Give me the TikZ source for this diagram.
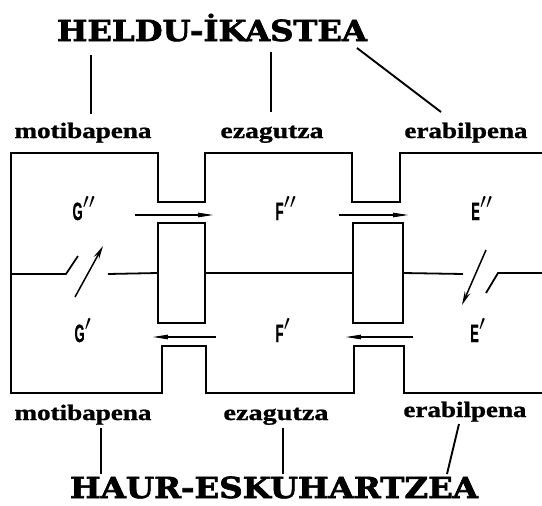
\documentclass[tikz,border=0pt]{standalone}
\usepackage{fontspec}
\setmainfont{Liberation Serif}
\newfontfamily\headfont[FakeBold=2.2]{DejaVu Serif Bold}
\newfontfamily\lblfont[FakeBold=1.0]{Liberation Serif Bold}
\newfontfamily\labfont[FakeBold=1.0]{Liberation Sans Bold}
\usetikzlibrary{arrows.meta}
\newcommand{\fitw}[2]{\resizebox{#1}{\height}{#2}}
\newcommand{\gl}[2]{\scalebox{0.52}[1]{\labfont #1}\kern0.3pt\scalebox{1.25}{$#2$}}
\tikzset{
  box/.style={line width=1.8pt, line join=miter, line cap=rect},
  conn/.style={line width=1.9pt},
  head/.style={anchor=base, inner sep=0pt, font=\headfont\fontsize{29}{29}\selectfont},
  lbl/.style={anchor=base, inner sep=0pt, font=\lblfont\fontsize{22}{22}\selectfont},
  glab/.style={anchor=base, inner sep=0pt, font=\fontsize{25}{25}\selectfont},
  flow/.style={line width=1.1pt, -{Stealth[length=22pt,width=7pt,inset=11pt]}},
  sw/.style={line width=1.5pt, -{Stealth[length=14pt,width=6pt,inset=5pt]}},
  rectbox/.style={draw, line width=1.8pt, inner sep=0pt, outer sep=0pt}
}
\begin{document}
\begin{tikzpicture}[x=1pt,y=-1pt]
\useasboundingbox (0,0) rectangle (542,506);
\fill[white] (0,0) rectangle (542,506);
% headlines
\node[head] (heldu) at (212,41) {\fitw{310pt}{HELDU-İKASTEA}};
\node[head] (haur) at (274,498) {\fitw{408pt}{HAUR-ESKUHARTZEA}};
% top labels
\node[lbl] (tmot) at (83,138) {\fitw{137pt}{motibapena}};
\node[lbl] (teza) at (272,138) {\fitw{103pt}{ezagutza}};
\node[lbl] (tera) at (466,138) {\fitw{123pt}{erabilpena}};
% bottom labels
\node[lbl] (bmot) at (83,420) {\fitw{137pt}{motibapena}};
\node[lbl] (beza) at (276,420) {\fitw{105pt}{ezagutza}};
\node[lbl] (bera) at (465,417) {\fitw{123pt}{erabilpena}};
% connector endpoints
\coordinate (h1) at (91,55);  \coordinate (m1) at (91,114);
\coordinate (h2) at (271,52); \coordinate (m2) at (271,112);
\coordinate (h3) at (357,48); \coordinate (m3) at (441,112);
\coordinate (b1) at (101,428); \coordinate (u1) at (101,474);
\coordinate (b2) at (283,428); \coordinate (u2) at (283,474);
\coordinate (b3) at (459,424); \coordinate (u3) at (447,474);
\draw[conn] (h1) -- (m1);
\draw[conn] (h2) -- (m2);
\draw[conn] (h3) -- (m3);
\draw[conn] (b1) -- (u1);
\draw[conn] (b2) -- (u2);
\draw[conn] (b3) -- (u3);
% outer frame
\draw[box] (542,153) -- (400,153) -- (400,202) -- (352,202) -- (352,153) -- (205,153)
  -- (205,202) -- (158,202) -- (158,153) -- (11,153) -- (11,393) -- (162,393)
  -- (162,346) -- (206,346) -- (206,393) -- (354,393) -- (354,346) -- (404,346)
  -- (404,393) -- (542,393);
% rectangles
\node[rectbox, minimum width=47pt, minimum height=100pt] (r1) at (181.5,273) {};
\node[rectbox, minimum width=50pt, minimum height=100pt] (r2) at (378,273) {};
% middle line and switches
\coordinate (s0) at (11,274); \coordinate (s1) at (66,274); \coordinate (s2) at (78,256);
\coordinate (s3) at (108,274);
\coordinate (e0) at (463,274);
\coordinate (e1) at (486,293); \coordinate (e2) at (498,273); \coordinate (e3) at (542,273);
\draw[box, line cap=butt] (s0) -- (s1) -- (s2);
\draw[box, line cap=butt] (s3) -- (r1.west);
\draw[box, line cap=butt] (r1.east) -- (r2.west);
\draw[box, line cap=butt] (r2.east) -- (e0);
\draw[box, line cap=butt] (e1) -- (e2) -- (e3);
\coordinate (ga0) at (75,297); \coordinate (ga1) at (103,246);
\coordinate (ea0) at (486,250); \coordinate (ea1) at (462,305);
\draw[sw] (ga0) -- (ga1);
\draw[sw] (ea0) -- (ea1);
% flow arrows
\coordinate (a1s) at (135,215); \coordinate (a1e) at (213,215);
\coordinate (a2s) at (339,215); \coordinate (a2e) at (408,215);
\coordinate (a3s) at (216,337); \coordinate (a3e) at (153,337);
\coordinate (a4s) at (413,337); \coordinate (a4e) at (346,337);
\draw[flow] (a1s) -- (a1e);
\draw[flow] (a2s) -- (a2e);
\draw[flow] (a3s) -- (a3e);
\draw[flow] (a4s) -- (a4e);
% state labels
\node[glab] (G2) at (84,220) {\gl{G}{''}};
\node[glab] (F2) at (286,220) {\gl{F}{''}};
\node[glab] (E2) at (482,220) {\gl{E}{''}};
\node[glab] (G1) at (83,342) {\gl{G}{'}};
\node[glab] (F1) at (283,342) {\gl{F}{'}};
\node[glab] (E1) at (478,342) {\gl{E}{'}};
\end{tikzpicture}
\end{document}
